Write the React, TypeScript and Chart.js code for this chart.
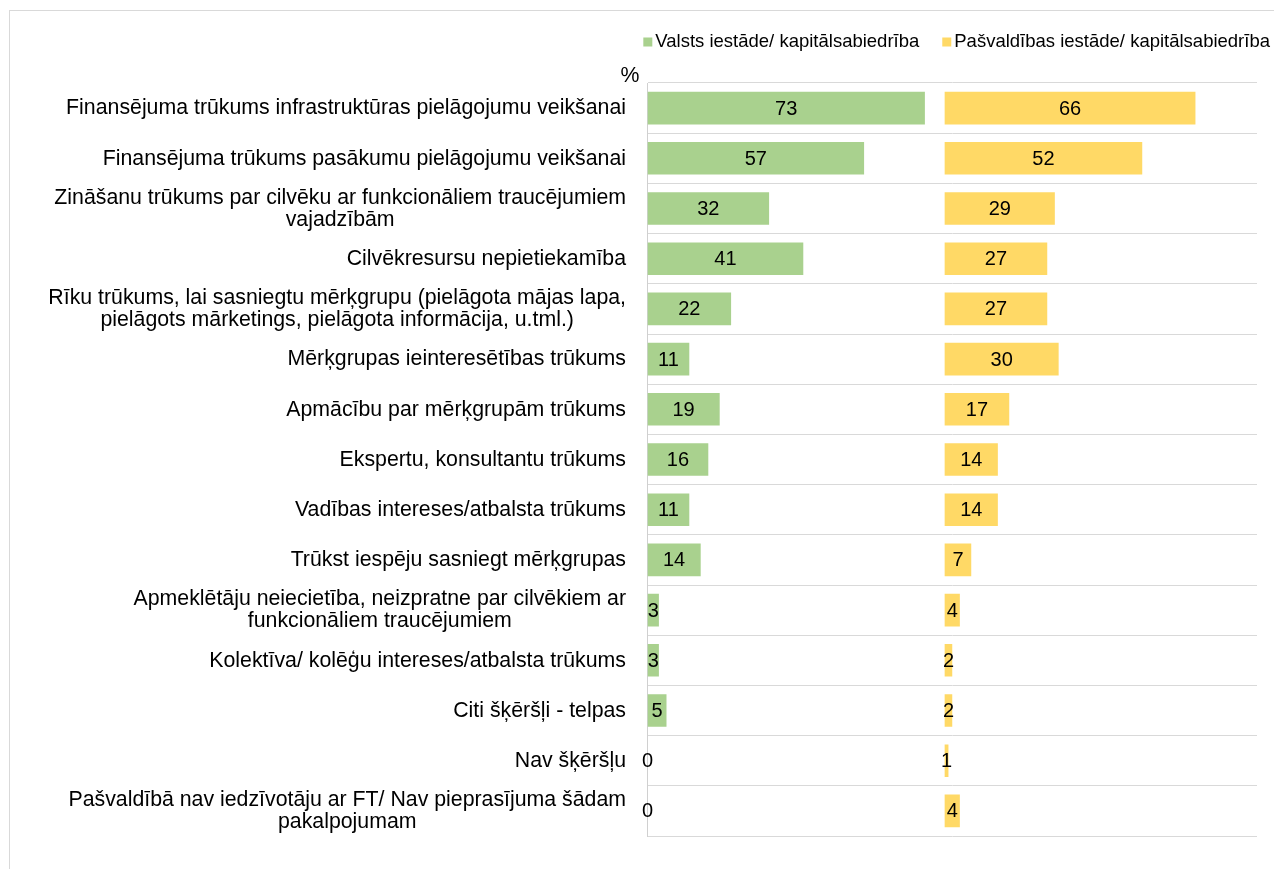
import React, { useEffect, useRef } from 'react';
import { Chart, registerables } from 'chart.js';

Chart.register(...registerables);

// ---------- data ----------
const categories: string[][] = [
  ['Finansējuma trūkums infrastruktūras pielāgojumu veikšanai'],
  ['Finansējuma trūkums pasākumu pielāgojumu veikšanai'],
  ['Zināšanu trūkums par cilvēku ar funkcionāliem traucējumiem', 'vajadzībām'],
  ['Cilvēkresursu nepietiekamība'],
  ['Rīku trūkums, lai sasniegtu mērķgrupu (pielāgota mājas lapa,', 'pielāgots mārketings, pielāgota informācija, u.tml.)'],
  ['Mērķgrupas ieinteresētības trūkums'],
  ['Apmācību par mērķgrupām trūkums'],
  ['Ekspertu, konsultantu trūkums'],
  ['Vadības intereses/atbalsta trūkums'],
  ['Trūkst iespēju sasniegt mērķgrupas'],
  ['Apmeklētāju neiecietība, neizpratne par cilvēkiem ar', 'funkcionāliem traucējumiem'],
  ['Kolektīva/ kolēģu intereses/atbalsta trūkums'],
  ['Citi šķēršļi - telpas'],
  ['Nav šķēršļu'],
  ['Pašvaldībā nav iedzīvotāju ar FT/ Nav pieprasījuma šādam', 'pakalpojumam'],
];
const seriesLabels = ['Valsts iestāde/ kapitālsabiedrība', 'Pašvaldības iestāde/ kapitālsabiedrība'];
const valstsValues = [73, 57, 32, 41, 22, 11, 19, 16, 11, 14, 3, 3, 5, 0, 0];
const pasvaldibasValues = [66, 52, 29, 27, 27, 30, 17, 14, 14, 7, 4, 2, 2, 1, 4];
const seriesColors = ['#A9D18E', '#FFD966'];
const secondPanelStart = 78.2; // where the second panel begins on the value axis
const axisMax = 160.4;
const unitLabel = '%';

// ---------- layout ----------
const W = 1274;
const H = 869;
const FONT = "'Liberation Sans', Arial, Helvetica, sans-serif";
const TEXT = '#000000';

const seriesValues = [valstsValues, pasvaldibasValues];

const textPlugin = {
  id: 'texts',
  afterDraw(chart: any) {
    const ctx = chart.ctx as CanvasRenderingContext2D;
    const yScale = chart.scales.y;
    const xScale = chart.scales.x;
    ctx.save();
    ctx.fillStyle = TEXT;

    // category labels: block right-aligned, lines centered within block
    ctx.font = `21.3px ${FONT}`;
    ctx.textBaseline = 'middle';
    ctx.textAlign = 'center';
    const labelRight = 626;
    const lineH = 22;
    categories.forEach((lines, i) => {
      const cy = yScale.getPixelForValue(i);
      const maxW = Math.max(...lines.map((l) => ctx.measureText(l).width));
      const cx = labelRight - maxW / 2;
      lines.forEach((l, j) => {
        ctx.fillText(l, cx, cy + 0.5 + (j - (lines.length - 1) / 2) * lineH);
      });
    });

    // unit label
    ctx.fillText(unitLabel, 630, 76);

    // value labels
    ctx.font = `20px ${FONT}`;
    chart.data.datasets.forEach((ds: any, di: number) => {
      ds.data.forEach((pair: number[], i: number) => {
        const px = (xScale.getPixelForValue(pair[0]) + xScale.getPixelForValue(pair[1])) / 2;
        const py = yScale.getPixelForValue(i);
        ctx.fillText(String(seriesValues[di][i]), px, py + 1);
      });
    });

    // legend (top right)
    ctx.font = `18.5px ${FONT}`;
    ctx.textAlign = 'left';
    const marker = 9;
    const markerGap = 3;
    const itemGap = 23;
    const widths = seriesLabels.map((t) => ctx.measureText(t).width);
    const total =
      widths.reduce((a, b) => a + b, 0) +
      seriesLabels.length * (marker + markerGap) +
      itemGap * (seriesLabels.length - 1);
    let lx = 1270 - total;
    const ly = 42;
    seriesLabels.forEach((t, i) => {
      ctx.fillStyle = seriesColors[i];
      ctx.fillRect(lx, ly - 4.5, marker, 9);
      lx += marker + markerGap;
      ctx.fillStyle = TEXT;
      ctx.fillText(t, lx, ly);
      lx += widths[i] + itemGap;
    });
    ctx.restore();
  },
};

export default function App() {
  const ref = useRef<HTMLCanvasElement>(null);

  useEffect(() => {
    const canvas = ref.current!;
    const chart = new Chart(canvas, {
      type: 'bar',
      data: {
        labels: categories.map((c) => c.join(' ')),
        datasets: [
          {
            label: seriesLabels[0],
            data: valstsValues.map((v) => [0, v]) as any,
            backgroundColor: seriesColors[0],
            borderWidth: 0,
            grouped: false,
            barPercentage: 0.65,
            categoryPercentage: 1,
          },
          {
            label: seriesLabels[1],
            data: pasvaldibasValues.map((v) => [secondPanelStart, secondPanelStart + v]) as any,
            backgroundColor: seriesColors[1],
            borderWidth: 0,
            grouped: false,
            barPercentage: 0.65,
            categoryPercentage: 1,
          },
        ],
      },
      options: {
        indexAxis: 'y',
        responsive: false,
        devicePixelRatio: 1,
        animation: false,
        events: [],
        layout: {
          padding: { left: 0, right: W - 1257, top: 83, bottom: H - 836 },
        },
        plugins: {
          legend: { display: false },
          tooltip: { enabled: false },
        },
        scales: {
          x: {
            type: 'linear',
            display: false,
            min: 0,
            max: axisMax,
          },
          y: {
            type: 'category',
            position: 'left',
            offset: true,
            ticks: { display: false },
            grid: { offset: true, color: '#D9D9D9', lineWidth: 1, drawTicks: false },
            border: { display: true, color: '#D0D0D0', width: 1 },
            afterFit: (scale: any) => {
              scale.width = 647.5;
            },
          },
        },
      },
      plugins: [textPlugin],
    } as any);
    return () => chart.destroy();
  }, []);

  return (
    <div
      style={{
        position: 'absolute',
        left: 0,
        top: 0,
        width: W,
        height: H,
        overflow: 'hidden',
        background: '#ffffff',
      }}
    >
      <div
        style={{
          position: 'absolute',
          left: 9,
          top: 10,
          width: 2000,
          height: 2000,
          border: '1px solid #D9D9D9',
        }}
      />
      <canvas
        ref={ref}
        width={W}
        height={H}
        style={{ position: 'absolute', left: 0, top: 0, width: W, height: H }}
      />
    </div>
  );
}
